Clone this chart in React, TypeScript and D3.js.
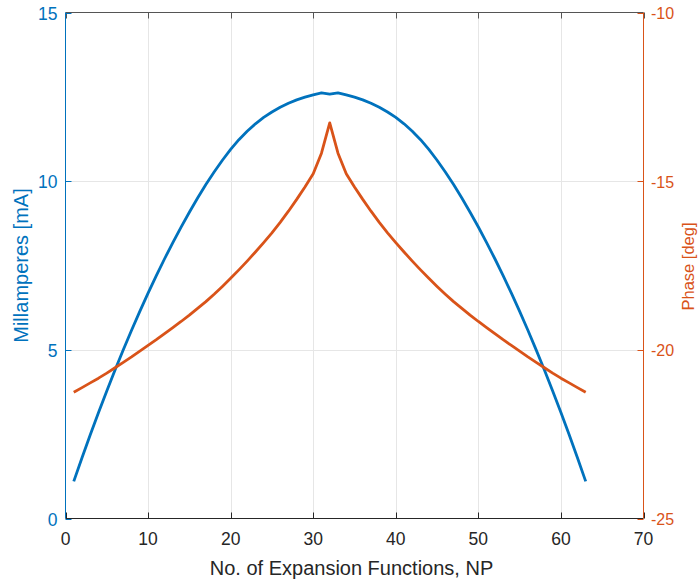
import React from 'react';
import * as d3 from 'd3';

const npValues = [
  1, 2, 3, 4, 5, 6, 7, 8, 9, 10, 11, 12, 13, 14, 15, 16, 17, 18, 19, 20, 21,
  22, 23, 24, 25, 26, 27, 28, 29, 30, 31, 32, 33, 34, 35, 36, 37, 38, 39, 40,
  41, 42, 43, 44, 45, 46, 47, 48, 49, 50, 51, 52, 53, 54, 55, 56, 57, 58, 59,
  60, 61, 62, 63,
];

const currentValues = [
  1.10, 1.80, 2.48, 3.14, 3.78, 4.40, 5.00, 5.58, 6.14, 6.68, 7.20, 7.70, 8.18,
  8.64, 9.08, 9.50, 9.90, 10.27, 10.62, 10.94, 11.23, 11.48, 11.70, 11.89,
  12.05, 12.19, 12.31, 12.41, 12.49, 12.56, 12.62, 12.58, 12.62, 12.56, 12.49,
  12.41, 12.31, 12.19, 12.05, 11.89, 11.70, 11.48, 11.23, 10.94, 10.62, 10.27,
  9.90, 9.50, 9.08, 8.64, 8.18, 7.70, 7.20, 6.68, 6.14, 5.58, 5.00, 4.40, 3.78,
  3.14, 2.48, 1.80, 1.10,
];

const phaseValues = [
  -21.26, -21.12, -20.98, -20.84, -20.69, -20.53, -20.37, -20.21, -20.04,
  -19.87, -19.70, -19.52, -19.34, -19.16, -18.97, -18.77, -18.57, -18.35,
  -18.12, -17.88, -17.63, -17.37, -17.10, -16.82, -16.53, -16.22, -15.89,
  -15.54, -15.17, -14.78, -14.17, -13.27, -14.17, -14.78, -15.17, -15.54,
  -15.89, -16.22, -16.53, -16.82, -17.10, -17.37, -17.63, -17.88, -18.12,
  -18.35, -18.57, -18.77, -18.97, -19.16, -19.34, -19.52, -19.70, -19.87,
  -20.04, -20.21, -20.37, -20.53, -20.69, -20.84, -20.98, -21.12, -21.26,
];

const xTicks = [0, 10, 20, 30, 40, 50, 60, 70];
const leftTicks = [0, 5, 10, 15];
const rightTicks = [-25, -20, -15, -10];

const xLabel = 'No. of Expansion Functions, NP';
const leftLabel = 'Millamperes [mA]';
const rightLabel = 'Phase [deg]';

const W = 698;
const H = 582;
const L = 65.5;
const R = 643.5;
const T = 12.5;
const B = 518.5;

const BLUE = '#0072BD';
const ORANGE = '#D95319';
const DARK = '#262626';
const GRID = '#e6e6e6';
const FONT = '"Liberation Sans", Arial, Helvetica, sans-serif';

export default function App() {
  const x = d3.scaleLinear().domain([0, 70]).range([L, R]);
  const yL = d3.scaleLinear().domain([0, 15]).range([B, T]);
  const yR = d3.scaleLinear().domain([-25, -10]).range([B, T]);

  const lineL = d3
    .line<number>()
    .x((_, i) => x(npValues[i]))
    .y((d) => yL(d));
  const lineR = d3
    .line<number>()
    .x((_, i) => x(npValues[i]))
    .y((d) => yR(d));

  const tickLen = 6;

  return (
    <svg
      width={W}
      height={H}
      style={{ position: 'absolute', left: 0, top: 0, background: '#fff' }}
      fontFamily={FONT}
    >
      <rect x={0} y={0} width={W} height={H} fill="#fff" />
      {/* grid */}
      <g stroke={GRID} strokeWidth={1}>
        {xTicks
          .filter((t) => t > 0 && t < 70)
          .map((t) => (
            <line key={'gx' + t} x1={Math.round(x(t)) + 0.5} x2={Math.round(x(t)) + 0.5} y1={T} y2={B} />
          ))}
        {leftTicks
          .filter((t) => t > 0 && t < 15)
          .map((t) => (
            <line key={'gy' + t} x1={L} x2={R} y1={Math.round(yL(t)) + 0.5} y2={Math.round(yL(t)) + 0.5} />
          ))}
      </g>

      {/* data */}
      <path d={lineL(currentValues) || ''} fill="none" stroke={BLUE} strokeWidth={2.8} strokeLinejoin="round" />
      <path d={lineR(phaseValues) || ''} fill="none" stroke={ORANGE} strokeWidth={2.8} strokeLinejoin="round" />

      {/* top border & top ticks */}
      <line x1={L} x2={R} y1={T} y2={T} stroke="#555" strokeWidth={1} />
      {xTicks.map((t) => (
        <line key={'tt' + t} x1={Math.round(x(t)) + 0.5} x2={Math.round(x(t)) + 0.5} y1={T} y2={T + tickLen} stroke="#555" />
      ))}

      {/* bottom axis */}
      <line x1={L} x2={R} y1={B} y2={B} stroke={DARK} strokeWidth={1} />
      {xTicks.map((t) => (
        <g key={'xt' + t}>
          <line x1={Math.round(x(t)) + 0.5} x2={Math.round(x(t)) + 0.5} y1={B} y2={B - tickLen} stroke={DARK} />
          <text x={x(t)} y={545} textAnchor="middle" fontSize={17.5} fill={DARK}>
            {t}
          </text>
        </g>
      ))}
      <text x={(L + R) / 2 - 3} y={575} textAnchor="middle" fontSize={20} fill={DARK}>
        {xLabel}
      </text>

      {/* left axis */}
      <line x1={L} x2={L} y1={T} y2={B} stroke={BLUE} strokeWidth={1} />
      {leftTicks.map((t) => (
        <g key={'lt' + t}>
          <line x1={L} x2={L + tickLen} y1={Math.round(yL(t)) + 0.5} y2={Math.round(yL(t)) + 0.5} stroke={BLUE} />
          <text x={57.5} y={yL(t) + 7.3} textAnchor="end" fontSize={17.5} fill={BLUE}>
            {t}
          </text>
        </g>
      ))}
      <text
        transform={`translate(28,${(T + B) / 2}) rotate(-90)`}
        textAnchor="middle"
        fontSize={20}
        fill={BLUE}
      >
        {leftLabel}
      </text>

      {/* right axis */}
      <line x1={R} x2={R} y1={T} y2={B} stroke={ORANGE} strokeWidth={1} />
      {rightTicks.map((t) => (
        <g key={'rt' + t}>
          <line x1={R} x2={R - tickLen} y1={Math.round(yR(t)) + 0.5} y2={Math.round(yR(t)) + 0.5} stroke={ORANGE} />
          <text x={651} y={yR(t) + 6.5} textAnchor="start" fontSize={16} fill={ORANGE}>
            {t}
          </text>
        </g>
      ))}
      <text
        transform={`translate(693.5,${(T + B) / 2 + 1}) rotate(-90)`}
        textAnchor="middle"
        fontSize={16.5}
        fill={ORANGE}
      >
        {rightLabel}
      </text>
    </svg>
  );
}
